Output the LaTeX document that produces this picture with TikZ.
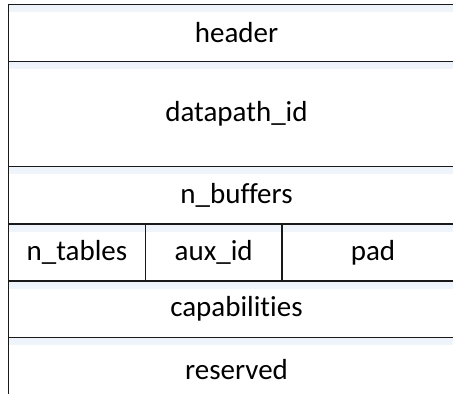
\documentclass[tikz,border=0pt]{standalone}
\usepackage{fontspec}
\setmainfont[Ligatures=NoCommon]{Carlito}
\begin{document}
\begin{tikzpicture}[x=1pt,y=-1pt,
  cell/.style={draw=black!90, line width=1.7pt, fill=white, anchor=north west,
    inner sep=0pt, outer sep=0pt, font=\fontsize{29}{34}\selectfont,
    path picture={\shade[top color=shadeblue, bottom color=white]
      (path picture bounding box.north west) rectangle ([yshift=-7pt]path picture bounding box.north east);}}]
\definecolor{shadeblue}{RGB}{238,243,251}
\useasboundingbox (0,0) rectangle (453,394);
\clip (0,0) rectangle (453,394);
\node[cell, minimum width=456pt, minimum height=57pt] (header) at (8.5,4.5) {header};
\node[cell, minimum width=456pt, minimum height=105pt] (dpid) at (8.5,61.5) {datapath\_id};
\node[cell, minimum width=456pt, minimum height=57.5pt] (nbuf) at (8.5,166.5) {n\_buffers};
\node[cell, minimum width=137pt, minimum height=57pt] (ntab) at (8.5,224) {n\_tables};
\node[cell, minimum width=136.5pt, minimum height=57pt] (aux) at (145.5,224) {aux\_id};
\node[cell, minimum width=182pt, minimum height=57pt] (pad) at (282,224) {pad};
\node[cell, minimum width=456pt, minimum height=56.5pt] (cap) at (8.5,281) {capabilities};
\node[cell, minimum width=456pt, minimum height=64pt] (res) at (8.5,337.5) {reserved};
\end{tikzpicture}
\end{document}
